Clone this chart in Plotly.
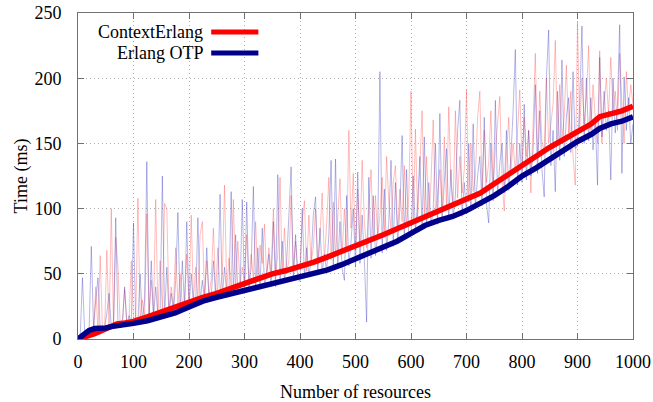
import plotly.graph_objects as go

# x positions of the raw measurements (number of resources)
x_raw = list(range(0, 1001, 4))

context_raw = [
    0, 1, 2, 2, 3, 4, 3, 5, 40, 6, 64, 7, 8, 68, 9, 100, 10, 78, 55, 11, 12, 38, 13, 14, 60,
    15, 14, 108, 16, 30, 17, 96, 18, 45, 20, 107, 21, 60, 22, 104, 100, 23, 40, 25, 70, 26, 50, 27, 28, 65,
    29, 95, 30, 55, 31, 80, 90, 32, 60, 34, 45, 85, 35, 70, 37, 50, 118, 38, 62, 40, 107, 41, 75, 42, 55,
    43, 80, 44, 65, 46, 90, 47, 72, 58, 88, 48, 70, 50, 100, 49, 65, 124, 51, 85, 52, 60, 110, 53, 75, 54,
    55, 90, 106, 52, 95, 58, 70, 100, 57, 80, 112, 60, 88, 124, 61, 105, 64, 90, 123, 65, 100, 67, 160, 85, 127,
    68, 115, 72, 137, 90, 70, 100, 130, 76, 110, 78, 95, 124, 80, 140, 105, 84, 120, 133, 83, 115, 90, 133, 86, 110,
    190, 88, 161, 92, 130, 175, 95, 140, 93, 120, 168, 97, 110, 130, 99, 155, 102, 178, 120, 104, 175, 108, 140, 112, 130,
    191, 105, 150, 113, 125, 170, 190, 115, 160, 120, 135, 175, 118, 145, 165, 186, 122, 98, 140, 170, 130, 150, 128, 155, 191,
    135, 170, 140, 160, 112, 175, 219, 140, 190, 150, 145, 200, 150, 165, 180, 229, 148, 195, 155, 170, 210, 158, 190, 140, 118,
    243, 160, 200, 165, 185, 225, 160, 195, 170, 150, 221, 150, 180, 200, 172, 216, 175, 190, 160, 219, 180, 150, 205, 175, 195,
    180,
]

otp_raw = [
    0, 2, 47, 5, 6, 7, 71, 8, 30, 47, 7, 8, 9, 20, 35, 9, 10, 93, 11, 10, 12, 40, 11, 18, 12,
    89, 12, 14, 50, 13, 30, 136, 15, 60, 16, 40, 17, 22, 125, 18, 55, 19, 35, 21, 45, 97, 23, 60, 24, 90,
    25, 50, 27, 26, 93, 28, 45, 30, 70, 31, 32, 60, 33, 40, 111, 32, 55, 34, 35, 113, 36, 80, 35, 37, 107,
    36, 105, 38, 55, 117, 38, 70, 40, 85, 41, 50, 65, 42, 90, 40, 126, 43, 75, 44, 60, 95, 132, 45, 80, 46,
    44, 100, 47, 70, 48, 60, 95, 109, 49, 85, 51, 65, 52, 80, 137, 53, 138, 55, 90, 54, 45, 110, 56, 75, 100,
    55, 128, 58, 95, 60, 13, 124, 62, 110, 64, 80, 205, 66, 115, 68, 90, 137, 71, 120, 73, 100, 156, 76, 130, 78,
    80, 125, 82, 105, 140, 84, 155, 86, 120, 87, 100, 150, 88, 173, 90, 120, 146, 91, 130, 93, 110, 160, 183, 94, 120,
    96, 150, 98, 165, 100, 125, 140, 102, 170, 104, 89, 150, 106, 183, 110, 135, 150, 112, 160, 114, 140, 175, 222, 118, 150,
    120, 180, 122, 160, 125, 145, 195, 127, 175, 130, 109, 200, 237, 133, 160, 113, 190, 137, 214, 140, 170, 185, 143, 205, 146,
    148, 180, 240, 150, 200, 152, 185, 145, 170, 118, 216, 155, 190, 160, 175, 122, 200, 158, 180, 241, 127, 201, 160, 185, 150,
    165,
]

# smoothed trends
x_smooth = [0, 10, 20, 30, 40, 50, 60, 70, 80, 90, 100, 125, 150, 175, 200,
            225, 250, 275, 300, 325, 350, 375, 400, 425, 450, 475, 500, 525,
            550, 575, 600, 625, 650, 675, 700, 725, 750, 775, 800, 825, 850,
            875, 900, 925, 940, 960, 980, 1000]
context_smooth = [0, 1, 2, 4, 6, 8, 10, 11.5, 12, 12.5, 13.5, 17, 21, 25, 29,
                  32, 35, 39, 43, 47, 50, 52.5, 55.5, 59, 63, 67, 71, 76,
                  80, 84.5, 89, 93, 97.5, 102, 106.5, 112, 119, 126, 134, 141, 147,
                  153, 159, 165, 170.5, 172.5, 175, 178.5]
otp_smooth = [0, 3, 6.5, 8, 8, 8.5, 9.5, 10, 10.5, 11, 12, 14, 16.5, 20, 24.5,
              29, 32, 34.5, 37, 39.5, 42, 44.5, 47, 50, 53, 57, 61.5, 65,
              70, 75, 81, 87, 91, 94, 98.5, 104, 110, 117, 125, 131, 138,
              145, 151.5, 157, 161.5, 165, 167, 170.5]

series_names = ["ContextErlang", "Erlang OTP"]
x_ticks = [0, 100, 200, 300, 400, 500, 600, 700, 800, 900, 1000]
y_ticks = [0, 50, 100, 150, 200, 250]

RED = "#ff0000"
BLUE = "#00008b"
FONT = "Liberation Serif"

fig = go.Figure()
fig.add_trace(go.Scatter(x=x_raw, y=context_raw, mode="lines",
                         line=dict(color="rgba(255,70,70,0.35)", width=1),
                         showlegend=False, hoverinfo="skip"))
fig.add_trace(go.Scatter(x=x_raw, y=otp_raw, mode="lines",
                         line=dict(color="rgba(50,50,190,0.35)", width=1),
                         showlegend=False, hoverinfo="skip"))
fig.add_trace(go.Scatter(x=x_smooth, y=context_smooth, mode="lines",
                         name=series_names[0],
                         line=dict(color=RED, width=5.5), showlegend=False))
fig.add_trace(go.Scatter(x=x_smooth, y=otp_smooth, mode="lines",
                         name=series_names[1],
                         line=dict(color=BLUE, width=5.5), showlegend=False))

# legend drawn in the style of the original (text right-aligned, sample to the right)
legend_y = [0.942, 0.877]
legend_colors = [RED, BLUE]
for name, ly, col in zip(series_names, legend_y, legend_colors):
    fig.add_annotation(xref="paper", yref="paper", x=0.228, y=ly,
                       text=name, showarrow=False, xanchor="right",
                       yanchor="middle", font=dict(family=FONT, size=18, color="black"))
    fig.add_shape(type="line", xref="paper", yref="paper",
                  x0=0.240, x1=0.325, y0=ly, y1=ly,
                  line=dict(color=col, width=5))

axis_common = dict(
    showline=True, linecolor="#707070", linewidth=1, mirror="ticks",
    ticks="inside", ticklen=6, tickcolor="#707070",
    showgrid=True, gridcolor="#b0b0b0", griddash="1px,3px", gridwidth=1,
    zeroline=False, automargin=False,
    tickfont=dict(family=FONT, size=18, color="black"),
)

fig.update_layout(
    width=653, height=402,
    margin=dict(l=78, r=20, t=13, b=63),
    paper_bgcolor="white", plot_bgcolor="white",
    font=dict(family=FONT, size=18, color="black"),
    xaxis=dict(range=[0, 1000], tickvals=x_ticks, ticklabelstandoff=6,
               title=dict(text="Number of resources", font=dict(family=FONT, size=18), standoff=14),
               **axis_common),
    yaxis=dict(range=[0, 250], tickvals=y_ticks, ticklabelstandoff=12,
               title=dict(text="Time (ms)", font=dict(family=FONT, size=18), standoff=2),
               **axis_common),
)

fig.write_html("out.html",
               config={"displayModeBar": False},
               post_script="document.body.style.margin='0';document.body.style.padding='0';")
